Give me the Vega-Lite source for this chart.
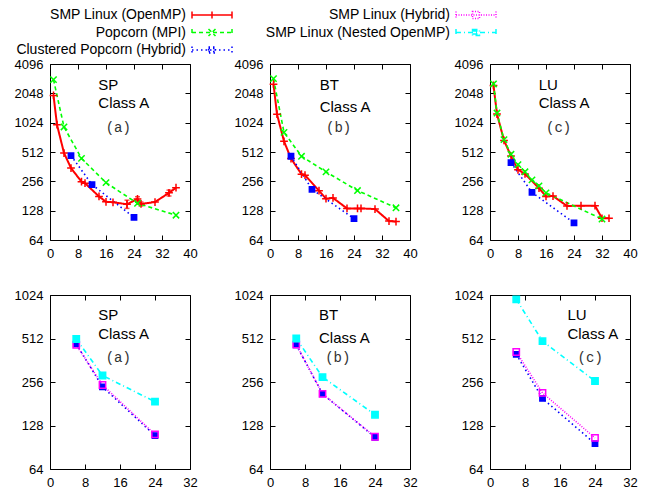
{
  "$schema": "https://vega.github.io/schema/vega-lite/v6.json",
  "background": "white",
  "padding": {"left": 13, "top": 8, "right": 5, "bottom": 5},
  "config": {
    "view": {"stroke": "#000000", "strokeWidth": 1},
    "axis": {"labelFont": "Liberation Sans", "labelFontSize": 13, "labelColor": "#000000", "tickColor": "#000000", "tickSize": -5, "tickWidth": 1, "labelPadding": 12, "domain": false, "grid": false, "title": null, "labelFlush": false, "labelOverlap": false},
    "legend": {"labelFont": "Liberation Sans", "labelFontSize": 14, "labelColor": "#000000", "symbolSize": 100, "symbolStrokeWidth": 1.5, "labelAlign": "right", "symbolOffset": 135, "labelOffset": -13, "columnPadding": 30, "rowPadding": 3.5, "labelLimit": 300, "offset": 0},
    "text": {"font": "Liberation Sans", "fontSize": 15, "color": "#000000"}
  },
  "datasets": {
    "pts": [
      {"bench": "SP", "series": "SMP Linux (OpenMP)", "x": 1, "y": 1950},
      {"bench": "SP", "series": "SMP Linux (OpenMP)", "x": 2, "y": 975},
      {"bench": "SP", "series": "SMP Linux (OpenMP)", "x": 4, "y": 500},
      {"bench": "SP", "series": "SMP Linux (OpenMP)", "x": 6, "y": 350},
      {"bench": "SP", "series": "SMP Linux (OpenMP)", "x": 9, "y": 254},
      {"bench": "SP", "series": "SMP Linux (OpenMP)", "x": 10, "y": 245},
      {"bench": "SP", "series": "SMP Linux (OpenMP)", "x": 14, "y": 179},
      {"bench": "SP", "series": "SMP Linux (OpenMP)", "x": 16, "y": 158},
      {"bench": "SP", "series": "SMP Linux (OpenMP)", "x": 18, "y": 156},
      {"bench": "SP", "series": "SMP Linux (OpenMP)", "x": 22, "y": 149, "lo": 135, "hi": 164},
      {"bench": "SP", "series": "SMP Linux (OpenMP)", "x": 25, "y": 169, "lo": 161, "hi": 178},
      {"bench": "SP", "series": "SMP Linux (OpenMP)", "x": 26, "y": 150, "lo": 143, "hi": 157},
      {"bench": "SP", "series": "SMP Linux (OpenMP)", "x": 30, "y": 157},
      {"bench": "SP", "series": "SMP Linux (OpenMP)", "x": 34, "y": 195, "lo": 181, "hi": 208},
      {"bench": "SP", "series": "SMP Linux (OpenMP)", "x": 36, "y": 220},
      {"bench": "SP", "series": "Popcorn (MPI)", "x": 1, "y": 2834},
      {"bench": "SP", "series": "Popcorn (MPI)", "x": 4, "y": 925},
      {"bench": "SP", "series": "Popcorn (MPI)", "x": 9, "y": 440},
      {"bench": "SP", "series": "Popcorn (MPI)", "x": 16, "y": 248},
      {"bench": "SP", "series": "Popcorn (MPI)", "x": 25, "y": 152},
      {"bench": "SP", "series": "Popcorn (MPI)", "x": 36, "y": 115},
      {"bench": "SP", "series": "Clustered Popcorn (Hybrid)", "x": 6, "y": 470},
      {"bench": "SP", "series": "Clustered Popcorn (Hybrid)", "x": 12, "y": 237},
      {"bench": "SP", "series": "Clustered Popcorn (Hybrid)", "x": 24, "y": 109},
      {"bench": "SP", "series": "SMP Linux (Hybrid)", "x": 6, "y": 462},
      {"bench": "SP", "series": "SMP Linux (Hybrid)", "x": 12, "y": 244},
      {"bench": "SP", "series": "SMP Linux (Hybrid)", "x": 24, "y": 111},
      {"bench": "SP", "series": "SMP Linux (Nested OpenMP)", "x": 6, "y": 508},
      {"bench": "SP", "series": "SMP Linux (Nested OpenMP)", "x": 12, "y": 284},
      {"bench": "SP", "series": "SMP Linux (Nested OpenMP)", "x": 24, "y": 187},
      {"bench": "BT", "series": "SMP Linux (OpenMP)", "x": 1, "y": 2540},
      {"bench": "BT", "series": "SMP Linux (OpenMP)", "x": 2, "y": 1250},
      {"bench": "BT", "series": "SMP Linux (OpenMP)", "x": 4, "y": 660},
      {"bench": "BT", "series": "SMP Linux (OpenMP)", "x": 6, "y": 439},
      {"bench": "BT", "series": "SMP Linux (OpenMP)", "x": 9, "y": 303},
      {"bench": "BT", "series": "SMP Linux (OpenMP)", "x": 10, "y": 296},
      {"bench": "BT", "series": "SMP Linux (OpenMP)", "x": 14, "y": 205},
      {"bench": "BT", "series": "SMP Linux (OpenMP)", "x": 16, "y": 170},
      {"bench": "BT", "series": "SMP Linux (OpenMP)", "x": 18, "y": 173},
      {"bench": "BT", "series": "SMP Linux (OpenMP)", "x": 22, "y": 135},
      {"bench": "BT", "series": "SMP Linux (OpenMP)", "x": 25, "y": 135},
      {"bench": "BT", "series": "SMP Linux (OpenMP)", "x": 26, "y": 135},
      {"bench": "BT", "series": "SMP Linux (OpenMP)", "x": 30, "y": 133},
      {"bench": "BT", "series": "SMP Linux (OpenMP)", "x": 34, "y": 100},
      {"bench": "BT", "series": "SMP Linux (OpenMP)", "x": 36, "y": 99},
      {"bench": "BT", "series": "Popcorn (MPI)", "x": 1, "y": 2896},
      {"bench": "BT", "series": "Popcorn (MPI)", "x": 4, "y": 814},
      {"bench": "BT", "series": "Popcorn (MPI)", "x": 9, "y": 463},
      {"bench": "BT", "series": "Popcorn (MPI)", "x": 16, "y": 320},
      {"bench": "BT", "series": "Popcorn (MPI)", "x": 25, "y": 206},
      {"bench": "BT", "series": "Popcorn (MPI)", "x": 36, "y": 137},
      {"bench": "BT", "series": "Clustered Popcorn (Hybrid)", "x": 6, "y": 463},
      {"bench": "BT", "series": "Clustered Popcorn (Hybrid)", "x": 12, "y": 212},
      {"bench": "BT", "series": "Clustered Popcorn (Hybrid)", "x": 24, "y": 106},
      {"bench": "BT", "series": "SMP Linux (Hybrid)", "x": 6, "y": 464},
      {"bench": "BT", "series": "SMP Linux (Hybrid)", "x": 12, "y": 212},
      {"bench": "BT", "series": "SMP Linux (Hybrid)", "x": 24, "y": 107},
      {"bench": "BT", "series": "SMP Linux (Nested OpenMP)", "x": 6, "y": 512},
      {"bench": "BT", "series": "SMP Linux (Nested OpenMP)", "x": 12, "y": 277},
      {"bench": "BT", "series": "SMP Linux (Nested OpenMP)", "x": 24, "y": 152},
      {"bench": "LU", "series": "SMP Linux (OpenMP)", "x": 1, "y": 2470},
      {"bench": "LU", "series": "SMP Linux (OpenMP)", "x": 2, "y": 1255},
      {"bench": "LU", "series": "SMP Linux (OpenMP)", "x": 4, "y": 673},
      {"bench": "LU", "series": "SMP Linux (OpenMP)", "x": 6, "y": 465},
      {"bench": "LU", "series": "SMP Linux (OpenMP)", "x": 8, "y": 336},
      {"bench": "LU", "series": "SMP Linux (OpenMP)", "x": 10, "y": 305},
      {"bench": "LU", "series": "SMP Linux (OpenMP)", "x": 14, "y": 218},
      {"bench": "LU", "series": "SMP Linux (OpenMP)", "x": 16, "y": 179},
      {"bench": "LU", "series": "SMP Linux (OpenMP)", "x": 18, "y": 181},
      {"bench": "LU", "series": "SMP Linux (OpenMP)", "x": 22, "y": 143},
      {"bench": "LU", "series": "SMP Linux (OpenMP)", "x": 26, "y": 144},
      {"bench": "LU", "series": "SMP Linux (OpenMP)", "x": 30, "y": 144},
      {"bench": "LU", "series": "SMP Linux (OpenMP)", "x": 32, "y": 107},
      {"bench": "LU", "series": "SMP Linux (OpenMP)", "x": 34, "y": 107},
      {"bench": "LU", "series": "Popcorn (MPI)", "x": 1, "y": 2555},
      {"bench": "LU", "series": "Popcorn (MPI)", "x": 2, "y": 1285},
      {"bench": "LU", "series": "Popcorn (MPI)", "x": 4, "y": 685},
      {"bench": "LU", "series": "Popcorn (MPI)", "x": 6, "y": 485},
      {"bench": "LU", "series": "Popcorn (MPI)", "x": 8, "y": 380},
      {"bench": "LU", "series": "Popcorn (MPI)", "x": 10, "y": 321},
      {"bench": "LU", "series": "Popcorn (MPI)", "x": 12, "y": 265},
      {"bench": "LU", "series": "Popcorn (MPI)", "x": 14, "y": 230},
      {"bench": "LU", "series": "Popcorn (MPI)", "x": 16, "y": 195},
      {"bench": "LU", "series": "Popcorn (MPI)", "x": 32, "y": 105},
      {"bench": "LU", "series": "Clustered Popcorn (Hybrid)", "x": 6, "y": 398},
      {"bench": "LU", "series": "Clustered Popcorn (Hybrid)", "x": 12, "y": 197},
      {"bench": "LU", "series": "Clustered Popcorn (Hybrid)", "x": 24, "y": 96},
      {"bench": "LU", "series": "SMP Linux (Hybrid)", "x": 6, "y": 413},
      {"bench": "LU", "series": "SMP Linux (Hybrid)", "x": 12, "y": 215},
      {"bench": "LU", "series": "SMP Linux (Hybrid)", "x": 24, "y": 105},
      {"bench": "LU", "series": "SMP Linux (Nested OpenMP)", "x": 6, "y": 956},
      {"bench": "LU", "series": "SMP Linux (Nested OpenMP)", "x": 12, "y": 491},
      {"bench": "LU", "series": "SMP Linux (Nested OpenMP)", "x": 24, "y": 260}
    ]
  },
  "vconcat": [
    {
      "spacing": 35,
      "hconcat": [
        {
          "width": 140, "height": 176,
          "resolve": {"axis": {"x": "independent", "y": "independent"}},
          "layer": [
            {
              "data": {"name": "pts"},
              "transform": [{"filter": "false"}],
              "mark": {"type": "point", "filled": false, "strokeWidth": 1.5, "opacity": 1},
              "encoding": {
                "color": {"field": "series", "type": "nominal", "scale": {"domain": ["SMP Linux (OpenMP)", "SMP Linux (Hybrid)", "Popcorn (MPI)", "SMP Linux (Nested OpenMP)", "Clustered Popcorn (Hybrid)"], "range": ["#ff0000", "#ff00ff", "#00ff00", "#00ffff", "#0000ff"]}, "legend": {"orient": "top", "columns": 2, "title": null}},
                "shape": {"field": "series", "type": "nominal", "scale": {"domain": ["SMP Linux (OpenMP)", "SMP Linux (Hybrid)", "Popcorn (MPI)", "SMP Linux (Nested OpenMP)", "Clustered Popcorn (Hybrid)"], "range": ["M0,0H8M0,-0.7V0.7M8,-0.7V0.7M4,-0.7V0.7", "M0,0H8M0,-0.7V0.7M8,-0.7V0.7M3.3,-0.7H4.7V0.7H3.3Z", "M0,0H8M0,-0.7V0.7M8,-0.7V0.7M3.3,-0.7L4.7,0.7M4.7,-0.7L3.3,0.7", "M0,0H8M0,-0.7V0.7M8,-0.7V0.7M3.3,-0.6H4.7V0.6H3.3ZM3.3,-0.3H4.7M3.3,0.3H4.7", "M0,0H8M0,-0.7V0.7M8,-0.7V0.7M3.3,-0.6H4.7V0.6H3.3ZM3.3,-0.3H4.7M3.3,0.3H4.7"]}, "legend": {"orient": "top", "columns": 2, "title": null}},
                "strokeDash": {"field": "series", "type": "nominal", "scale": {"domain": ["SMP Linux (OpenMP)", "SMP Linux (Hybrid)", "Popcorn (MPI)", "SMP Linux (Nested OpenMP)", "Clustered Popcorn (Hybrid)"], "range": [[1, 0], [1, 1.5], [4, 3], [5, 3, 1, 3], [1.5, 3]]}, "legend": {"orient": "top", "columns": 2, "title": null}}
              }
            },
            {
              "data": {"name": "pts"},
              "transform": [{"filter": {"field": "bench", "equal": "SP"}}, {"filter": "isValid(datum.lo)"}],
              "mark": {"type": "errorbar", "ticks": true, "color": "#ff0000", "thickness": 1.5},
              "encoding": {
                "x": {"field": "x", "type": "quantitative", "scale": {"domain": [0, 40], "nice": false}, "axis": null},
                "y": {"field": "lo", "type": "quantitative", "scale": {"type": "log", "base": 2, "domain": [64, 4096], "nice": false}, "axis": null},
                "y2": {"field": "hi"}
              }
            },
            {
              "data": {"name": "pts"},
              "transform": [{"filter": {"field": "bench", "equal": "SP"}}, {"filter": {"field": "series", "oneOf": ["SMP Linux (OpenMP)", "Popcorn (MPI)", "Clustered Popcorn (Hybrid)"]}}],
              "mark": {"type": "line"},
              "encoding": {
                "x": {"field": "x", "type": "quantitative", "scale": {"domain": [0, 40], "nice": false}, "axis": {"values": [0, 8, 16, 24, 32, 40]}},
                "y": {"field": "y", "type": "quantitative", "scale": {"type": "log", "base": 2, "domain": [64, 4096], "nice": false}, "axis": {"values": [64, 128, 256, 512, 1024, 2048, 4096], "format": "d"}},
                "color": {"field": "series", "type": "nominal", "scale": {"domain": ["SMP Linux (OpenMP)", "SMP Linux (Hybrid)", "Popcorn (MPI)", "SMP Linux (Nested OpenMP)", "Clustered Popcorn (Hybrid)"], "range": ["#ff0000", "#ff00ff", "#00ff00", "#00ffff", "#0000ff"]}, "legend": null},
                "strokeDash": {"field": "series", "type": "nominal", "scale": {"domain": ["SMP Linux (OpenMP)", "SMP Linux (Hybrid)", "Popcorn (MPI)", "SMP Linux (Nested OpenMP)", "Clustered Popcorn (Hybrid)"], "range": [[1, 0], [1, 1.5], [4, 3], [5, 3, 1, 3], [1.5, 3]]}, "legend": null},
                "strokeWidth": {"condition": {"test": "datum.series === 'SMP Linux (OpenMP)'", "value": 2}, "value": 1.6}
              }
            },
            {
              "data": {"name": "pts"},
              "transform": [{"filter": {"field": "bench", "equal": "SP"}}, {"filter": {"field": "series", "oneOf": ["SMP Linux (OpenMP)", "Popcorn (MPI)", "Clustered Popcorn (Hybrid)"]}}],
              "mark": {"type": "point", "filled": false, "strokeWidth": 1.5, "opacity": 1},
              "encoding": {
                "x": {"field": "x", "type": "quantitative", "scale": {"domain": [0, 40], "nice": false}, "axis": {"orient": "top", "values": [0, 8, 16, 24, 32, 40], "labels": false}},
                "y": {"field": "y", "type": "quantitative", "scale": {"type": "log", "base": 2, "domain": [64, 4096], "nice": false}, "axis": {"orient": "right", "values": [64, 128, 256, 512, 1024, 2048, 4096], "labels": false}},
                "color": {"field": "series", "type": "nominal", "scale": {"domain": ["SMP Linux (OpenMP)", "SMP Linux (Hybrid)", "Popcorn (MPI)", "SMP Linux (Nested OpenMP)", "Clustered Popcorn (Hybrid)"], "range": ["#ff0000", "#ff00ff", "#00ff00", "#00ffff", "#0000ff"]}, "legend": null},
                "shape": {"condition": [{"test": "datum.series === 'SMP Linux (OpenMP)'", "value": "M-1,0H1M0,-1V1"}, {"test": "datum.series === 'Popcorn (MPI)'", "value": "M-1,-1L1,1M1,-1L-1,1"}], "value": "square"},
                "fill": {"condition": [{"test": "datum.series === 'Clustered Popcorn (Hybrid)'", "value": "#0000ff"}, {"test": "datum.series === 'SMP Linux (Nested OpenMP)'", "value": "#00ffff"}], "value": "transparent"},
                "size": {"condition": [{"test": "datum.series === 'SMP Linux (OpenMP)'", "value": 60}, {"test": "datum.series === 'Clustered Popcorn (Hybrid)'", "value": 28}], "value": 40}
              }
            },
            {"data": {"values": [{}]}, "mark": {"type": "text", "align": "left", "baseline": "middle"}, "encoding": {"x": {"datum": 13.8, "type": "quantitative", "axis": null}, "y": {"datum": 2493, "type": "quantitative", "axis": null}, "text": {"value": "SP"}}},
            {"data": {"values": [{}]}, "mark": {"type": "text", "align": "left", "baseline": "middle"}, "encoding": {"x": {"datum": 13.8, "type": "quantitative", "axis": null}, "y": {"datum": 1618, "type": "quantitative", "axis": null}, "text": {"value": "Class A"}}},
            {"data": {"values": [{}]}, "mark": {"type": "text", "align": "center", "baseline": "middle", "font": "Liberation Mono", "fontSize": 14, "color": "#333333"}, "encoding": {"x": {"datum": 19.5, "type": "quantitative", "axis": null}, "y": {"datum": 909, "type": "quantitative", "axis": null}, "text": {"value": "(a)"}}}
          ]
        },
        {
          "width": 140, "height": 176,
          "resolve": {"axis": {"x": "independent", "y": "independent"}},
          "layer": [
            {
              "data": {"name": "pts"},
              "transform": [{"filter": {"field": "bench", "equal": "BT"}}, {"filter": {"field": "series", "oneOf": ["SMP Linux (OpenMP)", "Popcorn (MPI)", "Clustered Popcorn (Hybrid)"]}}],
              "mark": {"type": "line"},
              "encoding": {
                "x": {"field": "x", "type": "quantitative", "scale": {"domain": [0, 40], "nice": false}, "axis": {"values": [0, 8, 16, 24, 32, 40]}},
                "y": {"field": "y", "type": "quantitative", "scale": {"type": "log", "base": 2, "domain": [64, 4096], "nice": false}, "axis": {"values": [64, 128, 256, 512, 1024, 2048, 4096], "format": "d"}},
                "color": {"field": "series", "type": "nominal", "scale": {"domain": ["SMP Linux (OpenMP)", "SMP Linux (Hybrid)", "Popcorn (MPI)", "SMP Linux (Nested OpenMP)", "Clustered Popcorn (Hybrid)"], "range": ["#ff0000", "#ff00ff", "#00ff00", "#00ffff", "#0000ff"]}, "legend": null},
                "strokeDash": {"field": "series", "type": "nominal", "scale": {"domain": ["SMP Linux (OpenMP)", "SMP Linux (Hybrid)", "Popcorn (MPI)", "SMP Linux (Nested OpenMP)", "Clustered Popcorn (Hybrid)"], "range": [[1, 0], [1, 1.5], [4, 3], [5, 3, 1, 3], [1.5, 3]]}, "legend": null},
                "strokeWidth": {"condition": {"test": "datum.series === 'SMP Linux (OpenMP)'", "value": 2}, "value": 1.6}
              }
            },
            {
              "data": {"name": "pts"},
              "transform": [{"filter": {"field": "bench", "equal": "BT"}}, {"filter": {"field": "series", "oneOf": ["SMP Linux (OpenMP)", "Popcorn (MPI)", "Clustered Popcorn (Hybrid)"]}}],
              "mark": {"type": "point", "filled": false, "strokeWidth": 1.5, "opacity": 1},
              "encoding": {
                "x": {"field": "x", "type": "quantitative", "scale": {"domain": [0, 40], "nice": false}, "axis": {"orient": "top", "values": [0, 8, 16, 24, 32, 40], "labels": false}},
                "y": {"field": "y", "type": "quantitative", "scale": {"type": "log", "base": 2, "domain": [64, 4096], "nice": false}, "axis": {"orient": "right", "values": [64, 128, 256, 512, 1024, 2048, 4096], "labels": false}},
                "color": {"field": "series", "type": "nominal", "scale": {"domain": ["SMP Linux (OpenMP)", "SMP Linux (Hybrid)", "Popcorn (MPI)", "SMP Linux (Nested OpenMP)", "Clustered Popcorn (Hybrid)"], "range": ["#ff0000", "#ff00ff", "#00ff00", "#00ffff", "#0000ff"]}, "legend": null},
                "shape": {"condition": [{"test": "datum.series === 'SMP Linux (OpenMP)'", "value": "M-1,0H1M0,-1V1"}, {"test": "datum.series === 'Popcorn (MPI)'", "value": "M-1,-1L1,1M1,-1L-1,1"}], "value": "square"},
                "fill": {"condition": [{"test": "datum.series === 'Clustered Popcorn (Hybrid)'", "value": "#0000ff"}, {"test": "datum.series === 'SMP Linux (Nested OpenMP)'", "value": "#00ffff"}], "value": "transparent"},
                "size": {"condition": [{"test": "datum.series === 'SMP Linux (OpenMP)'", "value": 60}, {"test": "datum.series === 'Clustered Popcorn (Hybrid)'", "value": 28}], "value": 40}
              }
            },
            {"data": {"values": [{}]}, "mark": {"type": "text", "align": "left", "baseline": "middle"}, "encoding": {"x": {"datum": 14.2, "type": "quantitative", "axis": null}, "y": {"datum": 2493, "type": "quantitative", "axis": null}, "text": {"value": "BT"}}},
            {"data": {"values": [{}]}, "mark": {"type": "text", "align": "left", "baseline": "middle"}, "encoding": {"x": {"datum": 14.2, "type": "quantitative", "axis": null}, "y": {"datum": 1493, "type": "quantitative", "axis": null}, "text": {"value": "Class A"}}},
            {"data": {"values": [{}]}, "mark": {"type": "text", "align": "center", "baseline": "middle", "font": "Liberation Mono", "fontSize": 14, "color": "#333333"}, "encoding": {"x": {"datum": 19.6, "type": "quantitative", "axis": null}, "y": {"datum": 909, "type": "quantitative", "axis": null}, "text": {"value": "(b)"}}}
          ]
        },
        {
          "width": 140, "height": 176,
          "resolve": {"axis": {"x": "independent", "y": "independent"}},
          "layer": [
            {
              "data": {"name": "pts"},
              "transform": [{"filter": {"field": "bench", "equal": "LU"}}, {"filter": {"field": "series", "oneOf": ["SMP Linux (OpenMP)", "Popcorn (MPI)", "Clustered Popcorn (Hybrid)"]}}],
              "mark": {"type": "line"},
              "encoding": {
                "x": {"field": "x", "type": "quantitative", "scale": {"domain": [0, 40], "nice": false}, "axis": {"values": [0, 8, 16, 24, 32, 40]}},
                "y": {"field": "y", "type": "quantitative", "scale": {"type": "log", "base": 2, "domain": [64, 4096], "nice": false}, "axis": {"values": [64, 128, 256, 512, 1024, 2048, 4096], "format": "d"}},
                "color": {"field": "series", "type": "nominal", "scale": {"domain": ["SMP Linux (OpenMP)", "SMP Linux (Hybrid)", "Popcorn (MPI)", "SMP Linux (Nested OpenMP)", "Clustered Popcorn (Hybrid)"], "range": ["#ff0000", "#ff00ff", "#00ff00", "#00ffff", "#0000ff"]}, "legend": null},
                "strokeDash": {"field": "series", "type": "nominal", "scale": {"domain": ["SMP Linux (OpenMP)", "SMP Linux (Hybrid)", "Popcorn (MPI)", "SMP Linux (Nested OpenMP)", "Clustered Popcorn (Hybrid)"], "range": [[1, 0], [1, 1.5], [4, 3], [5, 3, 1, 3], [1.5, 3]]}, "legend": null},
                "strokeWidth": {"condition": {"test": "datum.series === 'SMP Linux (OpenMP)'", "value": 2}, "value": 1.6}
              }
            },
            {
              "data": {"name": "pts"},
              "transform": [{"filter": {"field": "bench", "equal": "LU"}}, {"filter": {"field": "series", "oneOf": ["SMP Linux (OpenMP)", "Popcorn (MPI)", "Clustered Popcorn (Hybrid)"]}}],
              "mark": {"type": "point", "filled": false, "strokeWidth": 1.5, "opacity": 1},
              "encoding": {
                "x": {"field": "x", "type": "quantitative", "scale": {"domain": [0, 40], "nice": false}, "axis": {"orient": "top", "values": [0, 8, 16, 24, 32, 40], "labels": false}},
                "y": {"field": "y", "type": "quantitative", "scale": {"type": "log", "base": 2, "domain": [64, 4096], "nice": false}, "axis": {"orient": "right", "values": [64, 128, 256, 512, 1024, 2048, 4096], "labels": false}},
                "color": {"field": "series", "type": "nominal", "scale": {"domain": ["SMP Linux (OpenMP)", "SMP Linux (Hybrid)", "Popcorn (MPI)", "SMP Linux (Nested OpenMP)", "Clustered Popcorn (Hybrid)"], "range": ["#ff0000", "#ff00ff", "#00ff00", "#00ffff", "#0000ff"]}, "legend": null},
                "shape": {"condition": [{"test": "datum.series === 'SMP Linux (OpenMP)'", "value": "M-1,0H1M0,-1V1"}, {"test": "datum.series === 'Popcorn (MPI)'", "value": "M-1,-1L1,1M1,-1L-1,1"}], "value": "square"},
                "fill": {"condition": [{"test": "datum.series === 'Clustered Popcorn (Hybrid)'", "value": "#0000ff"}, {"test": "datum.series === 'SMP Linux (Nested OpenMP)'", "value": "#00ffff"}], "value": "transparent"},
                "size": {"condition": [{"test": "datum.series === 'SMP Linux (OpenMP)'", "value": 60}, {"test": "datum.series === 'Clustered Popcorn (Hybrid)'", "value": 28}], "value": 40}
              }
            },
            {"data": {"values": [{}]}, "mark": {"type": "text", "align": "left", "baseline": "middle"}, "encoding": {"x": {"datum": 13.9, "type": "quantitative", "axis": null}, "y": {"datum": 2493, "type": "quantitative", "axis": null}, "text": {"value": "LU"}}},
            {"data": {"values": [{}]}, "mark": {"type": "text", "align": "left", "baseline": "middle"}, "encoding": {"x": {"datum": 13.9, "type": "quantitative", "axis": null}, "y": {"datum": 1618, "type": "quantitative", "axis": null}, "text": {"value": "Class A"}}},
            {"data": {"values": [{}]}, "mark": {"type": "text", "align": "center", "baseline": "middle", "font": "Liberation Mono", "fontSize": 14, "color": "#333333"}, "encoding": {"x": {"datum": 19.6, "type": "quantitative", "axis": null}, "y": {"datum": 909, "type": "quantitative", "axis": null}, "text": {"value": "(c)"}}}
          ]
        }
      ]
    },
    {
      "spacing": 35,
      "hconcat": [
        {
          "width": 140, "height": 174,
          "resolve": {"axis": {"x": "independent", "y": "independent"}},
          "layer": [
            {
              "data": {"name": "pts"},
              "transform": [{"filter": {"field": "bench", "equal": "SP"}}, {"filter": {"field": "series", "oneOf": ["Clustered Popcorn (Hybrid)", "SMP Linux (Hybrid)", "SMP Linux (Nested OpenMP)"]}}],
              "mark": {"type": "line"},
              "encoding": {
                "x": {"field": "x", "type": "quantitative", "scale": {"domain": [0, 32], "nice": false}, "axis": {"values": [0, 8, 16, 24, 32]}},
                "y": {"field": "y", "type": "quantitative", "scale": {"type": "log", "base": 2, "domain": [64, 1024], "nice": false}, "axis": {"values": [64, 128, 256, 512, 1024], "format": "d"}},
                "color": {"field": "series", "type": "nominal", "scale": {"domain": ["SMP Linux (OpenMP)", "SMP Linux (Hybrid)", "Popcorn (MPI)", "SMP Linux (Nested OpenMP)", "Clustered Popcorn (Hybrid)"], "range": ["#ff0000", "#ff00ff", "#00ff00", "#00ffff", "#0000ff"]}, "legend": null},
                "strokeDash": {"field": "series", "type": "nominal", "scale": {"domain": ["SMP Linux (OpenMP)", "SMP Linux (Hybrid)", "Popcorn (MPI)", "SMP Linux (Nested OpenMP)", "Clustered Popcorn (Hybrid)"], "range": [[1, 0], [1, 1.5], [4, 3], [5, 3, 1, 3], [1.5, 3]]}, "legend": null},
                "strokeWidth": {"value": 1.6}
              }
            },
            {
              "data": {"name": "pts"},
              "transform": [{"filter": {"field": "bench", "equal": "SP"}}, {"filter": {"field": "series", "oneOf": ["Clustered Popcorn (Hybrid)", "SMP Linux (Hybrid)", "SMP Linux (Nested OpenMP)"]}}],
              "mark": {"type": "point", "filled": false, "strokeWidth": 1.5, "opacity": 1},
              "encoding": {
                "x": {"field": "x", "type": "quantitative", "scale": {"domain": [0, 32], "nice": false}, "axis": {"orient": "top", "values": [0, 8, 16, 24, 32], "labels": false}},
                "y": {"field": "y", "type": "quantitative", "scale": {"type": "log", "base": 2, "domain": [64, 1024], "nice": false}, "axis": {"orient": "right", "values": [64, 128, 256, 512, 1024], "labels": false}},
                "color": {"field": "series", "type": "nominal", "scale": {"domain": ["SMP Linux (OpenMP)", "SMP Linux (Hybrid)", "Popcorn (MPI)", "SMP Linux (Nested OpenMP)", "Clustered Popcorn (Hybrid)"], "range": ["#ff0000", "#ff00ff", "#00ff00", "#00ffff", "#0000ff"]}, "legend": null},
                "shape": {"value": "square"},
                "fill": {"condition": [{"test": "datum.series === 'Clustered Popcorn (Hybrid)'", "value": "#0000ff"}, {"test": "datum.series === 'SMP Linux (Nested OpenMP)'", "value": "#00ffff"}], "value": "transparent"},
                "size": {"condition": {"test": "datum.series === 'Clustered Popcorn (Hybrid)'", "value": 28}, "value": 40}
              }
            },
            {"data": {"values": [{}]}, "mark": {"type": "text", "align": "left", "baseline": "middle"}, "encoding": {"x": {"datum": 11.0, "type": "quantitative", "axis": null}, "y": {"datum": 741, "type": "quantitative", "axis": null}, "text": {"value": "SP"}}},
            {"data": {"values": [{}]}, "mark": {"type": "text", "align": "left", "baseline": "middle"}, "encoding": {"x": {"datum": 11.0, "type": "quantitative", "axis": null}, "y": {"datum": 553, "type": "quantitative", "axis": null}, "text": {"value": "Class A"}}},
            {"data": {"values": [{}]}, "mark": {"type": "text", "align": "center", "baseline": "middle", "font": "Liberation Mono", "fontSize": 14, "color": "#333333"}, "encoding": {"x": {"datum": 15.6, "type": "quantitative", "axis": null}, "y": {"datum": 375, "type": "quantitative", "axis": null}, "text": {"value": "(a)"}}}
          ]
        },
        {
          "width": 140, "height": 174,
          "resolve": {"axis": {"x": "independent", "y": "independent"}},
          "layer": [
            {
              "data": {"name": "pts"},
              "transform": [{"filter": {"field": "bench", "equal": "BT"}}, {"filter": {"field": "series", "oneOf": ["Clustered Popcorn (Hybrid)", "SMP Linux (Hybrid)", "SMP Linux (Nested OpenMP)"]}}],
              "mark": {"type": "line"},
              "encoding": {
                "x": {"field": "x", "type": "quantitative", "scale": {"domain": [0, 32], "nice": false}, "axis": {"values": [0, 8, 16, 24, 32]}},
                "y": {"field": "y", "type": "quantitative", "scale": {"type": "log", "base": 2, "domain": [64, 1024], "nice": false}, "axis": {"values": [64, 128, 256, 512, 1024], "format": "d"}},
                "color": {"field": "series", "type": "nominal", "scale": {"domain": ["SMP Linux (OpenMP)", "SMP Linux (Hybrid)", "Popcorn (MPI)", "SMP Linux (Nested OpenMP)", "Clustered Popcorn (Hybrid)"], "range": ["#ff0000", "#ff00ff", "#00ff00", "#00ffff", "#0000ff"]}, "legend": null},
                "strokeDash": {"field": "series", "type": "nominal", "scale": {"domain": ["SMP Linux (OpenMP)", "SMP Linux (Hybrid)", "Popcorn (MPI)", "SMP Linux (Nested OpenMP)", "Clustered Popcorn (Hybrid)"], "range": [[1, 0], [1, 1.5], [4, 3], [5, 3, 1, 3], [1.5, 3]]}, "legend": null},
                "strokeWidth": {"value": 1.6}
              }
            },
            {
              "data": {"name": "pts"},
              "transform": [{"filter": {"field": "bench", "equal": "BT"}}, {"filter": {"field": "series", "oneOf": ["Clustered Popcorn (Hybrid)", "SMP Linux (Hybrid)", "SMP Linux (Nested OpenMP)"]}}],
              "mark": {"type": "point", "filled": false, "strokeWidth": 1.5, "opacity": 1},
              "encoding": {
                "x": {"field": "x", "type": "quantitative", "scale": {"domain": [0, 32], "nice": false}, "axis": {"orient": "top", "values": [0, 8, 16, 24, 32], "labels": false}},
                "y": {"field": "y", "type": "quantitative", "scale": {"type": "log", "base": 2, "domain": [64, 1024], "nice": false}, "axis": {"orient": "right", "values": [64, 128, 256, 512, 1024], "labels": false}},
                "color": {"field": "series", "type": "nominal", "scale": {"domain": ["SMP Linux (OpenMP)", "SMP Linux (Hybrid)", "Popcorn (MPI)", "SMP Linux (Nested OpenMP)", "Clustered Popcorn (Hybrid)"], "range": ["#ff0000", "#ff00ff", "#00ff00", "#00ffff", "#0000ff"]}, "legend": null},
                "shape": {"value": "square"},
                "fill": {"condition": [{"test": "datum.series === 'Clustered Popcorn (Hybrid)'", "value": "#0000ff"}, {"test": "datum.series === 'SMP Linux (Nested OpenMP)'", "value": "#00ffff"}], "value": "transparent"},
                "size": {"condition": {"test": "datum.series === 'Clustered Popcorn (Hybrid)'", "value": 28}, "value": 40}
              }
            },
            {"data": {"values": [{}]}, "mark": {"type": "text", "align": "left", "baseline": "middle"}, "encoding": {"x": {"datum": 11.2, "type": "quantitative", "axis": null}, "y": {"datum": 741, "type": "quantitative", "axis": null}, "text": {"value": "BT"}}},
            {"data": {"values": [{}]}, "mark": {"type": "text", "align": "left", "baseline": "middle"}, "encoding": {"x": {"datum": 11.2, "type": "quantitative", "axis": null}, "y": {"datum": 519, "type": "quantitative", "axis": null}, "text": {"value": "Class A"}}},
            {"data": {"values": [{}]}, "mark": {"type": "text", "align": "center", "baseline": "middle", "font": "Liberation Mono", "fontSize": 14, "color": "#333333"}, "encoding": {"x": {"datum": 15.5, "type": "quantitative", "axis": null}, "y": {"datum": 375, "type": "quantitative", "axis": null}, "text": {"value": "(b)"}}}
          ]
        },
        {
          "width": 140, "height": 174,
          "resolve": {"axis": {"x": "independent", "y": "independent"}},
          "layer": [
            {
              "data": {"name": "pts"},
              "transform": [{"filter": {"field": "bench", "equal": "LU"}}, {"filter": {"field": "series", "oneOf": ["Clustered Popcorn (Hybrid)", "SMP Linux (Hybrid)", "SMP Linux (Nested OpenMP)"]}}],
              "mark": {"type": "line"},
              "encoding": {
                "x": {"field": "x", "type": "quantitative", "scale": {"domain": [0, 32], "nice": false}, "axis": {"values": [0, 8, 16, 24, 32]}},
                "y": {"field": "y", "type": "quantitative", "scale": {"type": "log", "base": 2, "domain": [64, 1024], "nice": false}, "axis": {"values": [64, 128, 256, 512, 1024], "format": "d"}},
                "color": {"field": "series", "type": "nominal", "scale": {"domain": ["SMP Linux (OpenMP)", "SMP Linux (Hybrid)", "Popcorn (MPI)", "SMP Linux (Nested OpenMP)", "Clustered Popcorn (Hybrid)"], "range": ["#ff0000", "#ff00ff", "#00ff00", "#00ffff", "#0000ff"]}, "legend": null},
                "strokeDash": {"field": "series", "type": "nominal", "scale": {"domain": ["SMP Linux (OpenMP)", "SMP Linux (Hybrid)", "Popcorn (MPI)", "SMP Linux (Nested OpenMP)", "Clustered Popcorn (Hybrid)"], "range": [[1, 0], [1, 1.5], [4, 3], [5, 3, 1, 3], [1.5, 3]]}, "legend": null},
                "strokeWidth": {"value": 1.6}
              }
            },
            {
              "data": {"name": "pts"},
              "transform": [{"filter": {"field": "bench", "equal": "LU"}}, {"filter": {"field": "series", "oneOf": ["Clustered Popcorn (Hybrid)", "SMP Linux (Hybrid)", "SMP Linux (Nested OpenMP)"]}}],
              "mark": {"type": "point", "filled": false, "strokeWidth": 1.5, "opacity": 1},
              "encoding": {
                "x": {"field": "x", "type": "quantitative", "scale": {"domain": [0, 32], "nice": false}, "axis": {"orient": "top", "values": [0, 8, 16, 24, 32], "labels": false}},
                "y": {"field": "y", "type": "quantitative", "scale": {"type": "log", "base": 2, "domain": [64, 1024], "nice": false}, "axis": {"orient": "right", "values": [64, 128, 256, 512, 1024], "labels": false}},
                "color": {"field": "series", "type": "nominal", "scale": {"domain": ["SMP Linux (OpenMP)", "SMP Linux (Hybrid)", "Popcorn (MPI)", "SMP Linux (Nested OpenMP)", "Clustered Popcorn (Hybrid)"], "range": ["#ff0000", "#ff00ff", "#00ff00", "#00ffff", "#0000ff"]}, "legend": null},
                "shape": {"value": "square"},
                "fill": {"condition": [{"test": "datum.series === 'Clustered Popcorn (Hybrid)'", "value": "#0000ff"}, {"test": "datum.series === 'SMP Linux (Nested OpenMP)'", "value": "#00ffff"}], "value": "transparent"},
                "size": {"condition": {"test": "datum.series === 'Clustered Popcorn (Hybrid)'", "value": 28}, "value": 40}
              }
            },
            {"data": {"values": [{}]}, "mark": {"type": "text", "align": "left", "baseline": "middle"}, "encoding": {"x": {"datum": 17.7, "type": "quantitative", "axis": null}, "y": {"datum": 741, "type": "quantitative", "axis": null}, "text": {"value": "LU"}}},
            {"data": {"values": [{}]}, "mark": {"type": "text", "align": "left", "baseline": "middle"}, "encoding": {"x": {"datum": 17.7, "type": "quantitative", "axis": null}, "y": {"datum": 553, "type": "quantitative", "axis": null}, "text": {"value": "Class A"}}},
            {"data": {"values": [{}]}, "mark": {"type": "text", "align": "center", "baseline": "middle", "font": "Liberation Mono", "fontSize": 14, "color": "#333333"}, "encoding": {"x": {"datum": 22.9, "type": "quantitative", "axis": null}, "y": {"datum": 375, "type": "quantitative", "axis": null}, "text": {"value": "(c)"}}}
          ]
        }
      ]
    }
  ],
  "spacing": 27
}
